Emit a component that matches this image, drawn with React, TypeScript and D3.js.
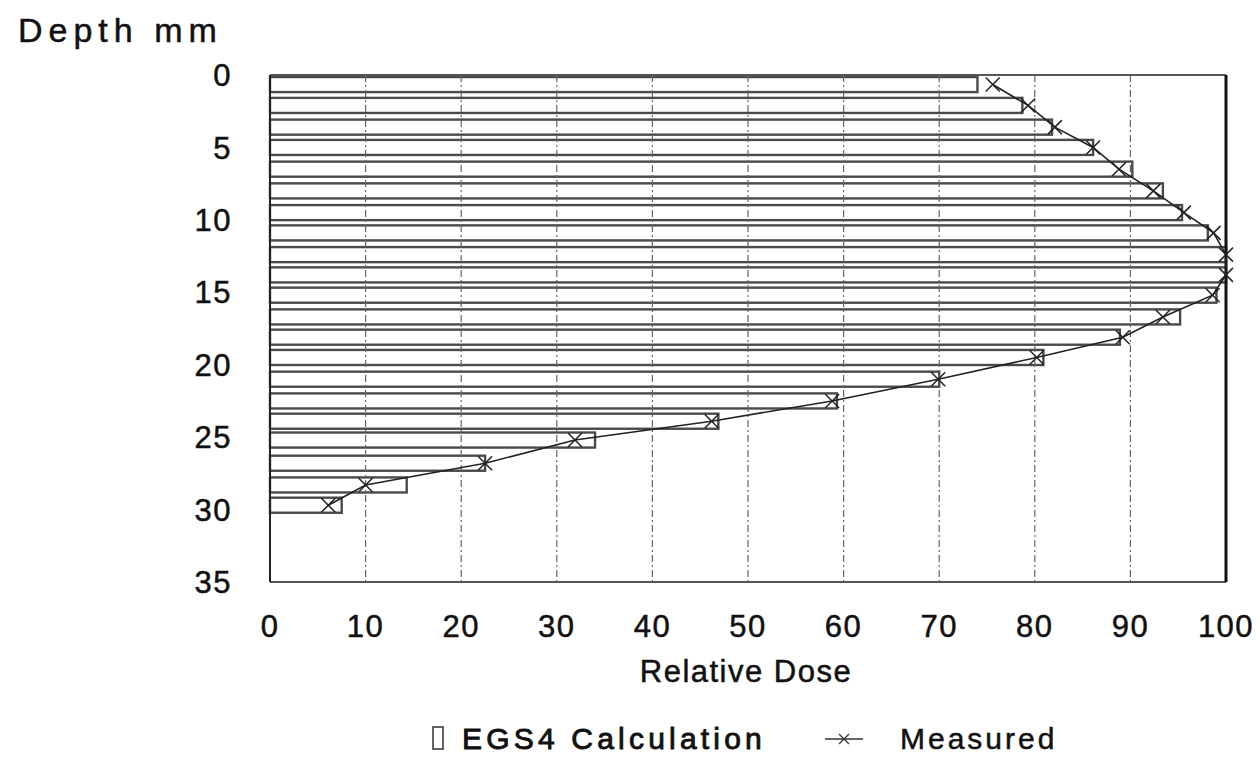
import React from "react";
import * as d3 from "d3";

const depthTicks = [0, 5, 10, 15, 20, 25, 30, 35];
const doseTicks = [0, 10, 20, 30, 40, 50, 60, 70, 80, 90, 100];
const depths = [0.66, 2.1, 3.6, 5.0, 6.5, 8.0, 9.5, 10.9, 12.4, 13.8, 15.2, 16.7, 18.1, 19.5, 21.0, 22.5, 23.9, 25.2, 26.8, 28.3, 29.7];
const egs4 = [74, 78.7, 81.8, 86.1, 90.2, 93.4, 95.4, 98.1, 100, 100, 99, 95.2, 88.9, 80.9, 70, 59.3, 46.9, 34, 22.5, 14.3, 7.5];
const measured = [75.6, 79.3, 82.1, 86.1, 88.8, 92.4, 95.6, 98.7, 100, 100, 98.6, 93.4, 89.2, 80.2, 69.9, 58.8, 46.2, 31.9, 22.5, 10, 6.1];

const W = 1260;
const H = 757;
const FONT = "'Liberation Sans', Arial, Helvetica, sans-serif";

export default function App() {
  const x = d3.scaleLinear().domain([0, 100]).range([270, 1226]);
  const y = d3.scaleLinear().domain([0, 35]).range([75, 582]);
  const half = 0.52;
  const line = d3
    .line<number>()
    .x((d) => x(d))
    .y((_, i) => y(depths[i]));
  const xs = 7;
  const txt = { fill: "#111", stroke: "#111", strokeWidth: 0.5 };
  return (
    <svg
      width={W}
      height={H}
      style={{ position: "absolute", left: 0, top: 0, background: "#fff" }}
      fontFamily={FONT}
    >
      <rect x={0} y={0} width={W} height={H} fill="#fff" />
      {/* bars */}
      {egs4.map((v, i) => (
        <rect
          key={"b" + i}
          x={x(0)}
          y={y(depths[i] - half)}
          width={x(v) - x(0)}
          height={y(depths[i] + half) - y(depths[i] - half)}
          fill="#fff"
          stroke="#4a4a4a"
          strokeWidth={2.4}
        />
      ))}
      {/* grid */}
      {doseTicks.slice(1, -1).map((t) => (
        <line
          key={"g" + t}
          x1={x(t)}
          x2={x(t)}
          y1={y(0)}
          y2={y(35)}
          stroke="#666"
          strokeWidth={1.2}
          strokeDasharray="7,3,2,3"
        />
      ))}
      {/* frame */}
      <line x1={x(0)} x2={x(100)} y1={y(0)} y2={y(0)} stroke="#555" strokeWidth={2} />
      <line x1={x(0)} x2={x(100)} y1={y(35)} y2={y(35)} stroke="#555" strokeWidth={2} />
      <line x1={x(0)} x2={x(0)} y1={y(0)} y2={y(35)} stroke="#222" strokeWidth={2} />
      <line x1={x(100)} x2={x(100)} y1={y(0)} y2={y(35)} stroke="#111" strokeWidth={3} />
      {/* measured */}
      <path d={line(measured) || ""} fill="none" stroke="#222" strokeWidth={1.6} />
      {measured.map((v, i) => (
        <g key={"m" + i} transform={`translate(${x(v)},${y(depths[i])})`} stroke="#222" strokeWidth={1.5}>
          <line x1={-xs} y1={-xs} x2={xs} y2={xs} />
          <line x1={-xs} y1={xs} x2={xs} y2={-xs} />
        </g>
      ))}
      {/* y ticks */}
      {depthTicks.map((t) => (
        <text
          key={"yt" + t}
          x={232}
          y={y(t)}
          dy="0.36em"
          textAnchor="end"
          fontSize={31}
          letterSpacing={1.5}
          {...txt}
        >
          {t}
        </text>
      ))}
      {/* x ticks */}
      {doseTicks.map((t) => (
        <text
          key={"xt" + t}
          x={x(t)}
          y={637}
          textAnchor="middle"
          fontSize={31}
          letterSpacing={1.5}
          {...txt}
        >
          {t}
        </text>
      ))}
      <text x={18} y={42} fontSize={34} letterSpacing={6} {...txt}>
        Depth mm
      </text>
      <text x={746} y={682} textAnchor="middle" fontSize={31} letterSpacing={1.5} {...txt}>
        Relative Dose
      </text>
      {/* legend */}
      <rect x={433} y={727} width={10} height={22} fill="#fff" stroke="#333" strokeWidth={1.5} />
      <text x={462} y={749} fontSize={30} letterSpacing={4.2} {...txt} strokeWidth={0.9}>
        EGS4 Calculation
      </text>
      <line x1={825} x2={863} y1={739} y2={739} stroke="#333" strokeWidth={1.3} />
      <g transform="translate(844,739)" stroke="#333" strokeWidth={1.3}>
        <line x1={-5} y1={-5} x2={5} y2={5} />
        <line x1={-5} y1={5} x2={5} y2={-5} />
      </g>
      <text x={900} y={749} fontSize={30} letterSpacing={3} {...txt}>
        Measured
      </text>
    </svg>
  );
}
